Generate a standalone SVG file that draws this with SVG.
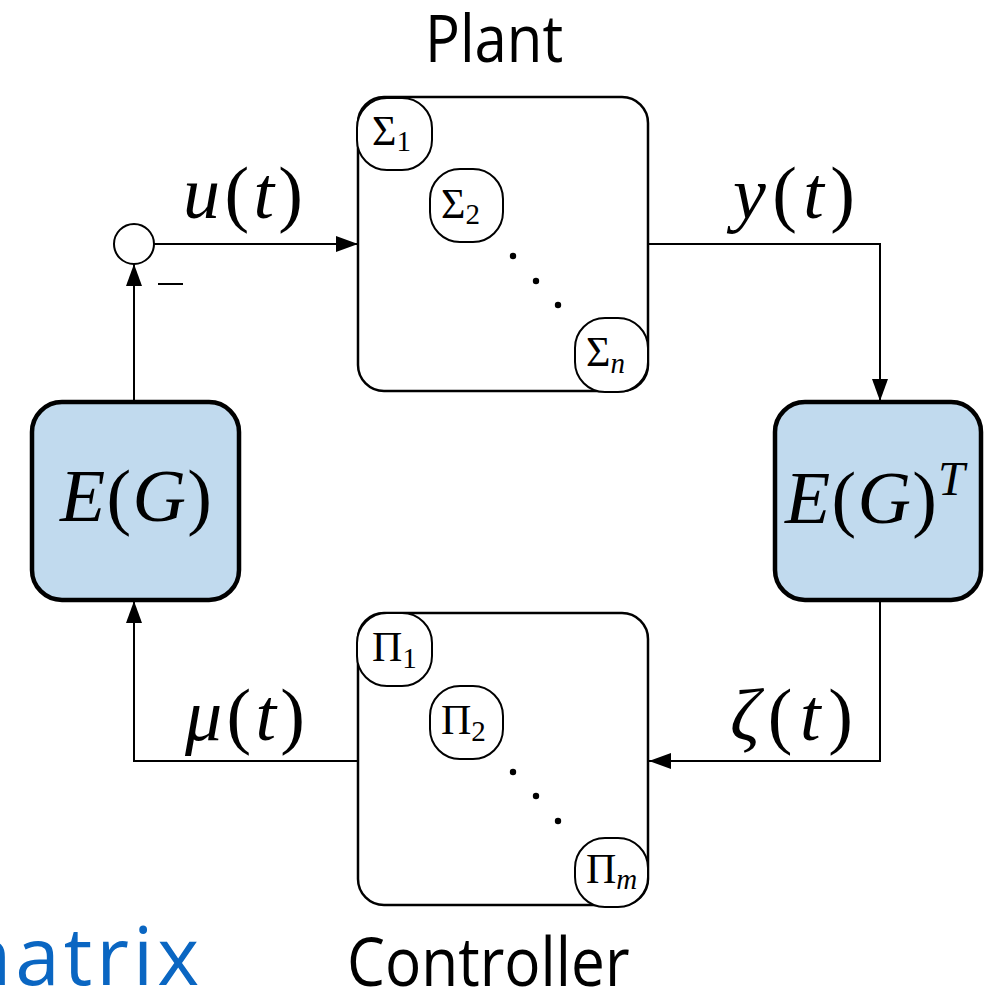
<svg xmlns="http://www.w3.org/2000/svg" width="998" height="992" viewBox="0 0 998 992">
<style>
.box{fill:#fff;stroke:#000;stroke-width:2.5}
.sub{fill:#fff;stroke:#000;stroke-width:2}
.eg{fill:#c1daee;stroke:#000;stroke-width:4.5}
.wire{fill:none;stroke:#000;stroke-width:2}
.math{font-family:"Liberation Serif","Times New Roman",serif;fill:#000}
.it{font-style:italic}
.lab{font-family:"Open Sans","Noto Sans",sans-serif;fill:#000}
</style>
<defs>
<marker id="ah" markerUnits="userSpaceOnUse" markerWidth="24" markerHeight="18" refX="22" refY="8" orient="auto">
<path d="M0,0 L22,8 L0,16 Z" fill="#000"/>
</marker>
</defs>
<rect width="998" height="992" fill="#fff"/>

<g id="connectors">
<line class="wire" x1="153" y1="244" x2="358" y2="244" marker-end="url(#ah)"/>
<polyline class="wire" points="648,244 880,244 880,401" marker-end="url(#ah)"/>
<polyline class="wire" points="880,600 880,761 649,761" marker-end="url(#ah)"/>
<polyline class="wire" points="358,761 134,761 134,601" marker-end="url(#ah)"/>
<line class="wire" x1="134" y1="402" x2="134" y2="264" marker-end="url(#ah)"/>
<line class="wire" x1="158" y1="284" x2="183" y2="284"/>
<text class="math" font-size="74" x="183" y="218" textLength="120" lengthAdjust="spacing"><tspan class="it">u</tspan>(<tspan class="it">t</tspan>)</text>
<text class="math" font-size="74" x="733" y="218" textLength="122" lengthAdjust="spacing"><tspan class="it">y</tspan>(<tspan class="it">t</tspan>)</text>
<text class="math" font-size="74" x="185" y="740" textLength="120" lengthAdjust="spacing"><tspan class="it">μ</tspan>(<tspan class="it">t</tspan>)</text>
<text class="math" font-size="74" x="730" y="740" textLength="123" lengthAdjust="spacing"><tspan class="it">ζ</tspan>(<tspan class="it">t</tspan>)</text>
</g>

<g id="sum">
<circle cx="134" cy="244" r="20" fill="#fff" stroke="#000" stroke-width="2"/>
</g>

<g id="plant">
<rect class="box" x="358" y="97" width="290" height="294" rx="26"/>
<circle cx="513" cy="256" r="3.2"/>
<circle cx="536" cy="281" r="3.2"/>
<circle cx="558" cy="305" r="3.2"/>
<g id="sigma1"><rect class="sub" x="357" y="98" width="75" height="72" rx="30"/>
<text class="math" font-size="42" x="372" y="145">Σ<tspan font-size="29" dy="6">1</tspan></text></g>
<g id="sigma2"><rect class="sub" x="430" y="169" width="73" height="73" rx="30"/>
<text class="math" font-size="42" x="441" y="218">Σ<tspan font-size="29" dy="6">2</tspan></text></g>
<g id="sigman"><rect class="sub" x="575" y="318" width="73" height="74" rx="30"/>
<text class="math" font-size="42" x="586" y="366">Σ<tspan font-size="29" dy="7" class="it">n</tspan></text></g>
<text class="lab" font-size="66" transform="translate(425,62) scale(0.88,1)" x="0" y="0">Plant</text>
</g>

<g id="controller">
<rect class="box" x="358" y="613" width="290" height="292" rx="26"/>
<circle cx="513" cy="772" r="3.2"/>
<circle cx="536" cy="796" r="3.2"/>
<circle cx="558" cy="821" r="3.2"/>
<g id="pi1"><rect class="sub" x="357" y="613" width="75" height="73" rx="30"/>
<text class="math" font-size="42" x="372" y="661">Π<tspan font-size="29" dy="7">1</tspan></text></g>
<g id="pi2"><rect class="sub" x="430" y="686" width="73" height="73" rx="30"/>
<text class="math" font-size="42" x="441" y="734">Π<tspan font-size="29" dy="7">2</tspan></text></g>
<g id="pim"><rect class="sub" x="575" y="838" width="73" height="69" rx="30"/>
<text class="math" font-size="42" x="586" y="883">Π<tspan font-size="29" dy="6" class="it">m</tspan></text></g>
<text class="lab" font-size="67" transform="translate(347,986) scale(0.9,1)" x="0" y="0">Controller</text>
</g>

<g id="E">
<rect class="eg" x="32" y="402" width="207" height="198" rx="30"/>
<text class="math" font-size="74" x="60" y="521" textLength="152" lengthAdjust="spacing"><tspan class="it">E</tspan>(<tspan class="it">G</tspan>)</text>
</g>

<g id="ET">
<rect class="eg" x="775" y="402" width="206" height="198" rx="30"/>
<text class="math" font-size="74" x="785" y="523" textLength="152" lengthAdjust="spacing"><tspan class="it">E</tspan>(<tspan class="it">G</tspan>)</text>
<text class="math it" font-size="48" x="938" y="495">T</text>
</g>

<text font-family="'Open Sans','Noto Sans',sans-serif" font-size="80" fill="#0a66c2" x="203" y="985" text-anchor="end" letter-spacing="4">matrix</text>
</svg>
